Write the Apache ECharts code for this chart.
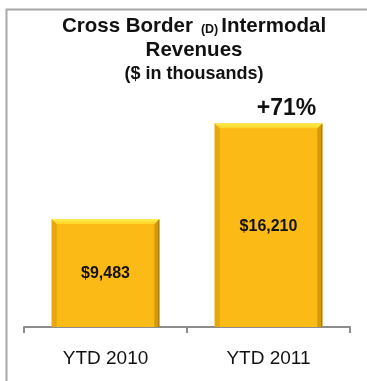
<!DOCTYPE html>
<html>
<head>
<meta charset="utf-8">
<script src="https://cdn.jsdelivr.net/npm/echarts@6/dist/echarts.min.js"></script>
<style>
  html, body { margin: 0; padding: 0; background: #fff; }
  #chart { width: 367px; height: 381px; }
</style>
</head>
<body>
<div id="chart"></div>
<script>
// Cross border intermodal revenues, year to date ($ in thousands)
const categories = ['YTD 2010', 'YTD 2011'];
const revenues = [9483, 16210];

// value axis window
const Y_MIN = 1900;
const Y_MAX = 18000;

const FONT = '"Liberation Sans", Arial, Helvetica, sans-serif';
const BAR_RATIO = 0.66;
const BEVEL = 5;

const money = v => '$' + v.toLocaleString('en-US');
const growth = Math.round((revenues[revenues.length - 1] / revenues[0] - 1) * 100);

const chart = echarts.init(document.getElementById('chart'), null, { renderer: 'canvas' });

function renderBar(params, api) {
  const idx = api.value(0);
  const v = api.value(1);
  const top = api.coord([idx, v]);
  const base = api.coord([idx, Y_MIN]);
  const w = api.size([1, 0])[0] * BAR_RATIO;
  const x0 = top[0] - w / 2, x1 = top[0] + w / 2;
  const y0 = top[1], y1 = base[1];
  const b = BEVEL;
  const children = [
    { type: 'rect', shape: { x: x0, y: y0, width: w, height: y1 - y0 },
      style: { fill: '#FCBA17' } },
    { type: 'polygon', shape: { points: [[x0, y0], [x0 + b, y0 + b], [x0 + b, y1], [x0, y1]] },
      style: { fill: '#E6A60D' } },
    { type: 'polygon', shape: { points: [[x1, y0], [x1 - b, y0 + b], [x1 - b, y1], [x1, y1]] },
      style: { fill: '#D69A08' } },
    { type: 'line', shape: { x1: x1 - 0.5, y1: y0 + 1, x2: x1 - 0.5, y2: y1 },
      style: { stroke: '#9A760A', lineWidth: 1 } },
    { type: 'polygon', shape: { points: [[x0, y0], [x1, y0], [x1 - b, y0 + b], [x0 + b, y0 + b]] },
      style: { fill: new echarts.graphic.LinearGradient(0, 0, 0, 1, [
        { offset: 0, color: '#FFEE55' }, { offset: 1, color: '#FFD424' }]) } },
    { type: 'text', x: top[0], y: (y0 + y1) / 2 + 1,
      style: { text: money(v), align: 'center', verticalAlign: 'middle',
        fontFamily: FONT, fontSize: 16, fontWeight: 'bold', fill: '#111' } }
  ];
  if (params.dataIndex === revenues.length - 1) {
    children.push({ type: 'text', x: top[0] + 18, y: y0 - 15,
      style: { text: '+' + growth + '%', align: 'center', verticalAlign: 'middle',
        fontFamily: FONT, fontSize: 23, fontWeight: 'bold', fill: '#111' } });
  }
  return { type: 'group', children };
}

chart.setOption({
  animation: false,
  backgroundColor: '#fff',
  grid: { left: 24, right: 17, top: 97.7, bottom: 54 },
  xAxis: {
    type: 'category',
    data: categories,
    axisLine: { show: true, lineStyle: { color: '#8C8C8C', width: 2 } },
    axisTick: { show: true, alignWithLabel: false, length: 6,
      lineStyle: { color: '#8C8C8C', width: 2 } },
    axisLabel: { margin: 22, fontFamily: FONT, fontSize: 19, color: '#111' }
  },
  yAxis: {
    type: 'value', min: Y_MIN, max: Y_MAX, show: false,
    splitLine: { show: false }
  },
  series: [{
    type: 'custom',
    renderItem: renderBar,
    encode: { x: 0, y: 1 },
    data: revenues.map((v, i) => [i, v]),
    clip: false
  }],
  graphic: [
    { type: 'rect', shape: { x: 6.5, y: 9.5, width: 420, height: 420 },
      style: { fill: 'none', stroke: '#A8A8A8', lineWidth: 2 }, silent: true },
    { type: 'text', x: 194, y: 15,
      style: {
        text: '{a|Cross Border}{d|(D)}{a|Intermodal}\n{a|Revenues}\n{c|($ in thousands)}',
        align: 'center', verticalAlign: 'top', fill: '#111',
        rich: {
          a: { fontFamily: FONT, fontSize: 20.5, fontWeight: 'bold', lineHeight: 23.5, fill: '#111' },
          d: { fontFamily: FONT, fontSize: 12.5, fontWeight: 'bold', lineHeight: 23.5, fill: '#111',
               padding: [5, 3, 0, 8] },
          c: { fontFamily: FONT, fontSize: 18, fontWeight: 'bold', lineHeight: 23.5, fill: '#111' }
        }
      } }
  ]
});
</script>
</body>
</html>
